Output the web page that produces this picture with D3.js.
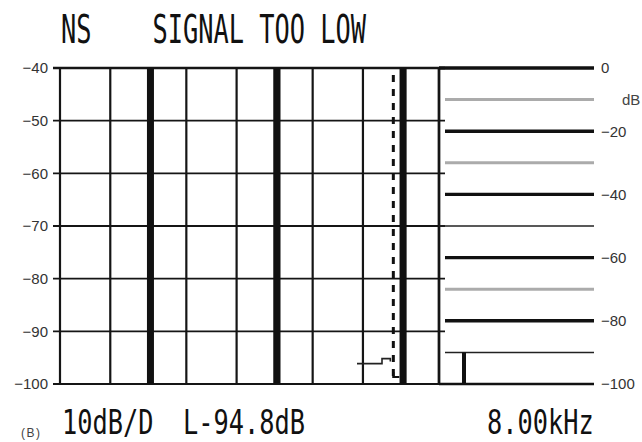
<!DOCTYPE html>
<html><head><meta charset="utf-8">
<script src="https://cdn.jsdelivr.net/npm/d3@7"></script>
<style>
html,body{margin:0;padding:0;background:#fff;}
svg{display:block;}
</style></head><body>
<script>
// Spectrum analyser screen: level (dB) vs log frequency on the left,
// reference level scale on the right, status lines above and below.
const statusText = "NS    SIGNAL TOO LOW";
const scaleText = "10dB/D";
const levelText = "L-94.8dB";
const freqText = "8.00kHz";
const panelTag = "(B)";

const levelTicks = [-40, -50, -60, -70, -80, -90, -100];
const gridFreqs = [10, 25, 50, 100, 250, 500, 1000, 2500, 5000, 10000];
const lineFreqs = [52, 522, 5200];      // spectral lines, clipped at the top of the screen
const lineLevels = [-40, -40, -40];
const cursorFreq = 4350;
const refLevel = -94.8;

const refMajor = [0, -20, -40, -60, -80];
const refMinor = [-10, -30, -70];
const refThin = [-50, -90];
const refLabels = [0, -20, -40, -60, -80, -100];
const meterLevel = -90;

const W = 642, H = 442;
const svg = d3.select("body").append("svg").attr("width", W).attr("height", H);

const x = d3.scaleLog().domain([10, 10000]).range([60, 439]);
const y = d3.scaleLinear().domain([-100, -40]).range([384, 68]);
const yR = d3.scaleLinear().domain([-100, 0]).range([384, 68]);
const xR = d3.scaleLinear().domain([0, 1]).range([445, 594]);

const ink = "#151515";

// horizontal grid of the spectrum pane (runs slightly past the right axis)
svg.append("g").selectAll("line").data(levelTicks).join("line")
  .attr("x1", 53).attr("x2", 445)
  .attr("y1", d => y(d)).attr("y2", d => y(d))
  .attr("stroke", ink).attr("stroke-width", d => d === -40 ? 2.6 : 1.8);

// vertical grid
svg.append("g").selectAll("line").data(gridFreqs).join("line")
  .attr("x1", d => x(d)).attr("x2", d => x(d))
  .attr("y1", y(-40)).attr("y2", y(-100))
  .attr("stroke", ink).attr("stroke-width", 2.2);

// spectral lines
svg.append("g").selectAll("rect").data(lineFreqs).join("rect")
  .attr("x", d => x(d) - 3.5).attr("width", 7)
  .attr("y", (d, i) => y(lineLevels[i])).attr("height", (d, i) => y(-100) - y(lineLevels[i]))
  .attr("fill", "#111");

// frequency cursor
const cx = x(cursorFreq);
svg.append("line")
  .attr("x1", cx).attr("x2", cx).attr("y1", 75).attr("y2", 377)
  .attr("stroke", "#111").attr("stroke-width", 3).attr("stroke-dasharray", "7 7");
svg.append("path")
  .attr("d", `M${cx},372V377H${cx + 6}`)
  .attr("fill", "none").attr("stroke", "#111").attr("stroke-width", 2.2);

// level marker
const ly = y(refLevel);
svg.append("path")
  .attr("d", `M357,${ly + 7}H382V${ly + 2}H${cx - 3}V${ly + 5}`)
  .attr("fill", "none").attr("stroke", "#222").attr("stroke-width", 1.6);

// left axis labels
const axL = svg.append("g").attr("transform", "translate(53,0)")
  .call(d3.axisLeft(y).tickValues(levelTicks).tickSize(0).tickPadding(5));
axL.select(".domain").remove();
axL.selectAll("text").attr("font-family", "Liberation Sans, Arial, sans-serif")
  .attr("font-size", 15).attr("fill", "#333");

// reference scale pane
svg.append("line")
  .attr("x1", 439).attr("x2", 439).attr("y1", yR(0)).attr("y2", yR(-100))
  .attr("stroke", ink).attr("stroke-width", 2.6);
svg.append("g").selectAll("line").data(refMajor).join("line")
  .attr("x1", d => d === 0 ? 439 : xR(0)).attr("x2", xR(1))
  .attr("y1", d => yR(d)).attr("y2", d => yR(d))
  .attr("stroke", "#111").attr("stroke-width", 3.4);
svg.append("g").selectAll("line").data(refMinor).join("line")
  .attr("x1", xR(0)).attr("x2", xR(1))
  .attr("y1", d => yR(d)).attr("y2", d => yR(d))
  .attr("stroke", "#ababab").attr("stroke-width", 3);
svg.append("g").selectAll("line").data(refThin).join("line")
  .attr("x1", d => d === -90 ? xR(0) : 439).attr("x2", xR(1))
  .attr("y1", d => yR(d)).attr("y2", d => yR(d))
  .attr("stroke", "#222").attr("stroke-width", 1.5);
svg.append("line")
  .attr("x1", 439).attr("x2", xR(1)).attr("y1", yR(-100)).attr("y2", yR(-100))
  .attr("stroke", "#111").attr("stroke-width", 2.6);
svg.append("rect")
  .attr("x", 462).attr("width", 4)
  .attr("y", yR(meterLevel)).attr("height", yR(-100) - yR(meterLevel))
  .attr("fill", "#111");

const axR = svg.append("g").attr("transform", "translate(599,0)")
  .call(d3.axisRight(yR).tickValues(refLabels).tickSize(0).tickPadding(2));
axR.select(".domain").remove();
axR.selectAll("text").attr("font-family", "Liberation Sans, Arial, sans-serif")
  .attr("font-size", 15).attr("fill", "#333");
svg.append("text").attr("x", 622).attr("y", yR(-10)).attr("dy", "0.36em")
  .attr("font-family", "Liberation Sans, Arial, sans-serif").attr("font-size", 15)
  .attr("fill", "#444").text("dB");

// status lines in the instrument's condensed mono type
function mono(str, tx, ty, size, sx) {
  svg.append("text")
    .attr("transform", `translate(${tx},${ty}) scale(${sx},1)`)
    .attr("font-family", "DejaVu Sans Mono, monospace").attr("font-size", size)
    .attr("fill", "#111").style("white-space", "pre").attr("xml:space", "preserve")
    .text(str);
}
mono(statusText, 61, 43, 39, 0.65);
mono(scaleText, 62, 434, 33, 0.768);
mono(levelText, 183, 434, 33, 0.768);
mono(freqText, 487, 434, 33, 0.768);

svg.append("text").attr("x", 21).attr("y", 437)
  .attr("font-family", "Liberation Sans, Arial, sans-serif").attr("font-size", 12)
  .attr("letter-spacing", 1.5).attr("fill", "#444").text(panelTag);
</script>
</body></html>
